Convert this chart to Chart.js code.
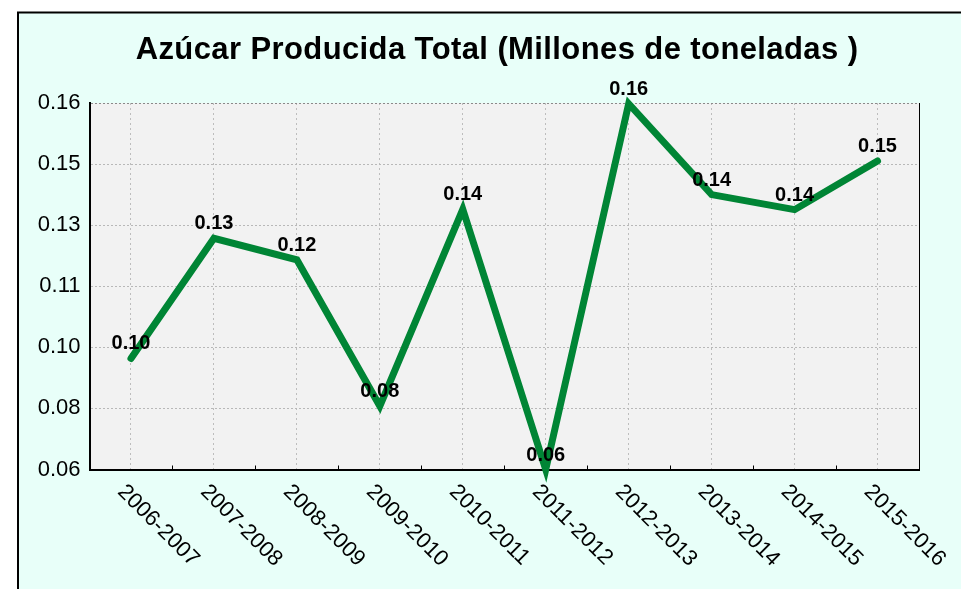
<!DOCTYPE html>
<html>
<head>
<meta charset="utf-8">
<script src="https://cdn.jsdelivr.net/npm/chart.js@4"></script>
<style>
  html, body { margin: 0; padding: 0; background: #ffffff; overflow: hidden; }
  canvas { display: block; }
</style>
</head>
<body>
<canvas id="sugar-chart" width="961" height="589"></canvas>
<script>
// data
const seasons = ["2006-2007", "2007-2008", "2008-2009", "2009-2010", "2010-2011",
  "2011-2012", "2012-2013", "2013-2014", "2014-2015", "2015-2016"];
const sugarProduced = [0.0903, 0.1231, 0.1172, 0.0773, 0.1310, 0.0600, 0.1598, 0.1350, 0.1309, 0.1442];
const pointLabels = ["0.10", "0.13", "0.12", "0.08", "0.14", "0.06", "0.16", "0.14", "0.14", "0.15"];

// y axis: 6 equal steps between 0.06 and 0.16, labels as printed on the original
const yTickValues = [0.06, 0.07667, 0.09333, 0.11, 0.12667, 0.14333, 0.16];
const yTickLabels = ["0.06", "0.08", "0.10", "0.11", "0.13", "0.15", "0.16"];

const chartTitle = "Azúcar Producida Total (Millones de toneladas )";
const fontFamily = "'Liberation Sans', Arial, sans-serif";

// frame, mint background and grey plot area
const backgroundPlugin = {
  id: "backgroundPlugin",
  beforeDraw(chart) {
    const ctx = chart.ctx;
    const area = chart.chartArea;
    ctx.save();
    ctx.fillStyle = "#ffffff";
    ctx.fillRect(0, 0, chart.width, chart.height);
    ctx.fillStyle = "#e8fff9";
    ctx.fillRect(17, 12, chart.width, chart.height);
    ctx.strokeStyle = "#000000";
    ctx.lineWidth = 2;
    ctx.beginPath();
    ctx.moveTo(18, chart.height);
    ctx.lineTo(18, 12.5);
    ctx.lineTo(chart.width, 12.5);
    ctx.stroke();
    ctx.fillStyle = "#f2f2f2";
    ctx.fillRect(area.left, area.top, area.right - area.left, area.bottom - area.top);
    ctx.restore();
  },
  beforeDatasetsDraw(chart) {
    const ctx = chart.ctx;
    const area = chart.chartArea;
    const xScale = chart.scales.x;
    ctx.save();
    // right edge of the plot
    ctx.strokeStyle = "#000000";
    ctx.lineWidth = 1;
    ctx.beginPath();
    ctx.moveTo(area.right + 0.5, area.top);
    ctx.lineTo(area.right + 0.5, area.bottom);
    ctx.stroke();
    // small tick marks between the categories
    ctx.beginPath();
    for (let i = 0; i < seasons.length - 1; i++) {
      let x = Math.round((xScale.getPixelForTick(i) + xScale.getPixelForTick(i + 1)) / 2) + 0.5;
      ctx.moveTo(x, area.bottom);
      ctx.lineTo(x, area.bottom - 4);
    }
    ctx.stroke();
    ctx.restore();
  },
  afterDraw(chart) {
    const ctx = chart.ctx;
    const area = chart.chartArea;
    const xScale = chart.scales.x;
    const yScale = chart.scales.y;
    ctx.save();

    // title
    ctx.fillStyle = "#000000";
    ctx.font = "bold 31px " + fontFamily;
    ctx.letterSpacing = "0.4px";
    ctx.textAlign = "center";
    ctx.textBaseline = "alphabetic";
    ctx.fillText(chartTitle, 497, 59);
    ctx.letterSpacing = "0px";

    // value labels above the points
    ctx.font = "bold 20px " + fontFamily;
    for (let i = 0; i < sugarProduced.length; i++) {
      let x = xScale.getPixelForValue(i);
      let y = yScale.getPixelForValue(sugarProduced[i]);
      ctx.fillText(pointLabels[i], x, y - 9);
    }

    // slanted category labels
    ctx.font = "22px " + fontFamily;
    ctx.textAlign = "left";
    ctx.textBaseline = "middle";
    for (let i = 0; i < seasons.length; i++) {
      let x = xScale.getPixelForTick(i);
      ctx.save();
      ctx.translate(x - 10, area.bottom + 19);
      ctx.rotate(Math.PI / 4);
      ctx.fillText(seasons[i], 0, 0);
      ctx.restore();
    }
    ctx.restore();
  },
};

const sugarChart = new Chart(document.getElementById("sugar-chart"), {
  type: "line",
  data: {
    labels: seasons,
    datasets: [
      {
        data: sugarProduced,
        borderColor: "#008535",
        borderWidth: 7,
        borderCapStyle: "round",
        borderJoinStyle: "miter",
        pointRadius: 0,
        pointHoverRadius: 0,
        tension: 0,
        clip: false,
      },
    ],
  },
  options: {
    responsive: false,
    devicePixelRatio: 1,
    animation: false,
    events: [],
    layout: {
      padding: { top: 103, right: 42, bottom: 0, left: 0 },
    },
    plugins: {
      legend: { display: false },
      title: { display: false },
      tooltip: { enabled: false },
    },
    scales: {
      x: {
        type: "category",
        offset: true,
        ticks: { display: false },
        grid: {
          offset: false,
          drawTicks: false,
          color: "#bdbdbd",
          lineWidth: 1,
        },
        border: { display: true, color: "#000000", width: 2, dash: [2, 3] },
        afterFit(scale) {
          scale.height = 119.5;
        },
      },
      y: {
        min: 0.06,
        max: 0.16,
        afterBuildTicks(scale) {
          scale.ticks = yTickValues.map((v) => ({ value: v }));
        },
        ticks: {
          color: "#000000",
          font: { family: fontFamily, size: 22 },
          padding: 9,
          callback: (value, index) => yTickLabels[index],
        },
        grid: {
          drawTicks: false,
          color: (c) => (c.index === yTickValues.length - 1 ? "#8a8a8a" : "#b8b8b8"),
          lineWidth: 1,
        },
        border: { display: true, color: "#000000", width: 2, dash: [2, 2] },
        afterFit(scale) {
          scale.width = 89.5;
        },
      },
    },
  },
  plugins: [backgroundPlugin],
});
</script>
</body>
</html>
